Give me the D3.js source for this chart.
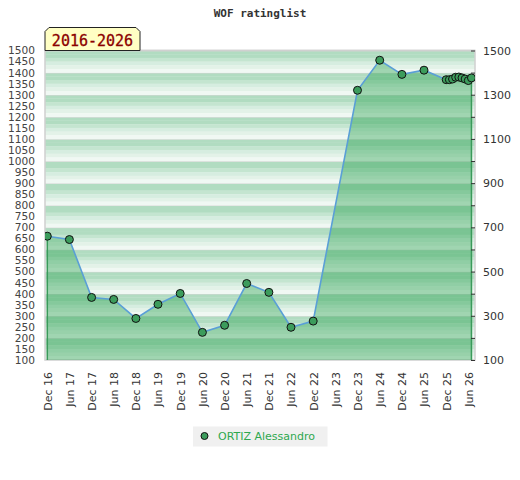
<!DOCTYPE html>
<html><head><meta charset="utf-8">
<script src="https://cdn.jsdelivr.net/npm/d3@7"></script>
<style>body{margin:0;background:#fff}svg{display:block}</style>
</head><body>
<svg id="c" width="520" height="480"></svg>
<script>
const title = "WOF ratinglist";
const periodLabel = "2016-2026";
const playerName = "ORTIZ Alessandro";
const dates = ["2016-12-01","2017-06-01","2017-12-01","2018-06-01","2018-12-01","2019-06-01","2019-12-01","2020-06-01","2020-12-01","2021-06-01","2021-12-01","2022-06-01","2022-12-01","2023-12-01","2024-06-01","2024-12-01","2025-06-01","2025-12-01","2025-12-27","2026-01-22","2026-02-17","2026-03-15","2026-04-10","2026-05-06","2026-06-01","2026-06-27"];
const ratings = [660,645,383,374,288,352,401,225,257,446,406,248,276,1320,1456,1392,1411,1368,1368,1371,1379,1380,1376,1371,1364,1376];
const xTickLabels = ["Dec 16","Jun 17","Dec 17","Jun 18","Dec 18","Jun 19","Dec 19","Jun 20","Dec 20","Jun 21","Dec 21","Jun 22","Dec 22","Jun 23","Dec 23","Jun 24","Dec 24","Jun 25","Dec 25","Jun 26"];
const leftTicks = [1500,1450,1400,1350,1300,1250,1200,1150,1100,1050,1000,950,900,850,800,750,700,650,600,550,500,450,400,350,300,250,200,150,100];
const rightTicks = [1500,1300,1100,900,700,500,300,100];
const rightMinorTicks = [1400,1200,1000,800,600,400,200];

const svg = d3.select("#c");
const L = 45, R = 475, T = 50.5, B = 360;
const parse = d3.timeParse("%Y-%m-%d");
const parseTick = d3.timeParse("%b %y");
const data = dates.map((d,i)=>({date:parse(d), v:ratings[i]}));

const x = d3.scaleTime().domain([parse("2016-12-01"), parse("2026-06-01")]).range([47.3, 468.3]);
const y = d3.scaleLinear().domain([100,1500]).range([B, T]);

const defs = svg.append("defs");
defs.append("clipPath").attr("id","clip").append("rect").attr("x",L).attr("y",T-6).attr("width",R-L).attr("height",B-T+6);

// background stripes
const stripeCols = ["#b1dcc1","#b1dcc1","#c4e5d0","#d6ede0","#e3f2e8","#f0f8f3"];
const bands = d3.range(100,1500,100);
const gBg = svg.append("g");
bands.forEach(b=>{
  const yTop = y(b+100), yBot = y(b), h = yBot-yTop;
  stripeCols.forEach((c,i)=>{
    gBg.append("rect").attr("x",L).attr("width",R-L)
      .attr("y",yTop + i*h/stripeCols.length).attr("height",h/stripeCols.length+0.3).attr("fill",c);
  });
  gBg.append("rect").attr("x",L).attr("width",R-L).attr("y",yTop-0.8).attr("height",1.6).attr("fill","#d6d6d6");
});

// border
svg.append("rect").attr("x",L).attr("y",T).attr("width",R-L).attr("height",B-T)
  .attr("fill","none").attr("stroke","#d0d0d0").attr("stroke-width",1.5);

const gPlot = svg.append("g").attr("clip-path","url(#clip)");
const area = d3.area().x(d=>x(d.date)).y0(y(100)).y1(d=>y(d.v));
gPlot.append("path").datum(data).attr("d",area).attr("fill","rgba(40,160,77,0.4)");
const first = data[0], last = data[data.length-1];
[first,last].forEach(d=>{
  gPlot.append("line").attr("x1",x(d.date)).attr("x2",x(d.date)).attr("y1",y(d.v)).attr("y2",y(100))
    .attr("stroke","#3a9a5a").attr("stroke-width",1.5);
});
const line = d3.line().x(d=>x(d.date)).y(d=>y(d.v));
gPlot.append("path").datum(data).attr("d",line).attr("fill","none").attr("stroke","#5a9fd6").attr("stroke-width",1.6);
gPlot.selectAll("circle.pt").data(data).enter().append("circle").attr("class","pt")
  .attr("cx",d=>x(d.date)).attr("cy",d=>y(d.v)).attr("r",4)
  .attr("fill","#3c9c5c").attr("stroke","#111").attr("stroke-width",1);

// left axis
const gl = svg.append("g").attr("transform",`translate(${L},0)`)
  .call(d3.axisLeft(y).tickValues(leftTicks).tickSize(0).tickPadding(10).tickFormat(d3.format("d")));
gl.select(".domain").remove();
gl.selectAll("text").attr("font-family","DejaVu Sans").attr("font-size",10.6).attr("fill","#444");

// right axis
const gr = svg.append("g").attr("transform",`translate(${R},0)`)
  .call(d3.axisRight(y).tickValues(rightTicks).tickSize(-4).tickPadding(8).tickFormat(d3.format("d")));
gr.select(".domain").remove();
gr.selectAll("line").attr("stroke","#333");
gr.selectAll("text").attr("font-family","DejaVu Sans").attr("font-size",11).attr("fill","#333");
const grm = svg.append("g").attr("transform",`translate(${R},0)`)
  .call(d3.axisRight(y).tickValues(rightMinorTicks).tickSize(-4).tickFormat(""));
grm.select(".domain").remove();
grm.selectAll("line").attr("stroke","#333");

// bottom axis
const gb = svg.append("g").attr("transform",`translate(0,${B})`)
  .call(d3.axisBottom(x).tickValues(xTickLabels.map(s=>parseTick(s))).tickSize(0).tickFormat(d3.timeFormat("%b %y")));
gb.select(".domain").remove();
gb.selectAll("text").attr("font-family","DejaVu Sans").attr("font-size",11).attr("fill","#333")
  .attr("text-anchor","end").attr("transform","rotate(-90)").attr("x",-12).attr("y",0).attr("dy","0.35em");

// title
svg.append("text").attr("x",260).attr("y",17).attr("text-anchor","middle")
  .attr("font-family","DejaVu Sans Mono").attr("font-weight","bold").attr("font-size",11).attr("fill","#333").text(title);

// period label box
const bx0 = 45, bx1 = 140, by0 = 27.5, by1 = 50.5, bev = 4;
svg.append("path").attr("d",`M${bx0},${by1}L${bx0},${by0+bev}L${bx0+bev},${by0}L${bx1-bev},${by0}L${bx1},${by0+bev}L${bx1},${by1}Z`)
  .attr("fill","#ffffc4").attr("stroke","#222").attr("stroke-width",1);
svg.append("text").attr("x",(bx0+bx1)/2).attr("y",45.5).attr("text-anchor","middle")
  .attr("font-family","DejaVu Sans Mono").attr("font-size",15).attr("fill","#8b0000").attr("stroke","#8b0000").attr("stroke-width",0.3).text(periodLabel);

// legend
svg.append("rect").attr("x",193).attr("y",426.5).attr("width",134.5).attr("height",20).attr("fill","#f0f0f0");
svg.append("circle").attr("cx",204.5).attr("cy",436).attr("r",3.5).attr("fill","#3c9c5c").attr("stroke","#111").attr("stroke-width",1);
svg.append("text").attr("x",218).attr("y",440).attr("font-family","DejaVu Sans").attr("font-size",11).attr("fill","#2ea84f").text(playerName);
</script>
</body></html>
